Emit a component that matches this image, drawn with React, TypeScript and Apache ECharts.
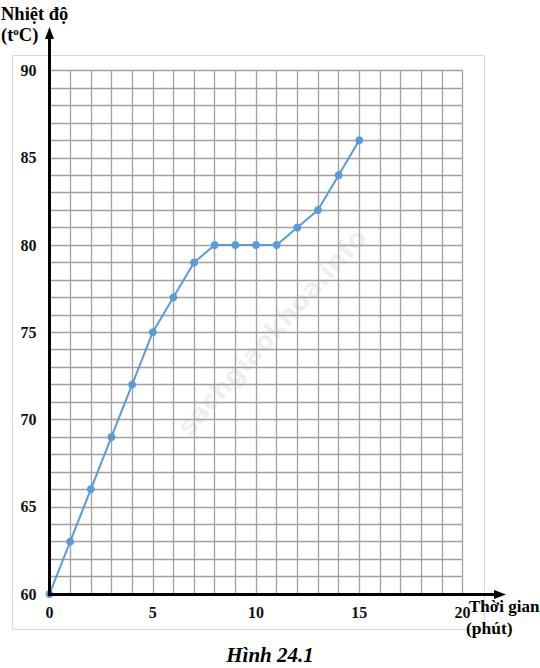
import React, { useEffect, useRef } from "react";
import * as echarts from "echarts";

const timeMinutes = [0, 1, 2, 3, 4, 5, 6, 7, 8, 9, 10, 11, 12, 13, 14, 15];
const temperatures = [60, 63, 66, 69, 72, 75, 77, 79, 80, 80, 80, 80, 81, 82, 84, 86];
const xTickLabels = [0, 5, 10, 15, 20];
const yTickLabels = [60, 65, 70, 75, 80, 85, 90];

const SERIF = '"Liberation Serif", "DejaVu Serif", serif';

export default function App() {
  const ref = useRef<HTMLDivElement>(null);
  useEffect(() => {
    if (!ref.current) return;
    const chart = echarts.init(ref.current, undefined, { renderer: "svg" });
    const data = timeMinutes.map((t, i) => [t, temperatures[i]]);
    chart.setOption({
      animation: false,
      backgroundColor: "#ffffff",
      grid: { left: 49.5, right: 77.5, top: 70.5, bottom: 74 },
      xAxis: {
        type: "value",
        min: 0,
        max: 20,
        interval: 1,
        axisLine: { show: false },
        axisTick: { show: false },
        splitLine: { show: true, lineStyle: { color: "#a0a0a0", width: 1.3 } },
        axisLabel: {
          margin: 10,
          fontFamily: SERIF,
          fontWeight: "bold",
          fontSize: 16,
          color: "#111",
          formatter: (v: number) => (xTickLabels.includes(v) ? String(v) : ""),
        },
      },
      yAxis: {
        type: "value",
        min: 60,
        max: 90,
        interval: 1,
        axisLine: { show: false },
        axisTick: { show: false },
        splitLine: { show: true, lineStyle: { color: "#a0a0a0", width: 1.3 } },
        axisLabel: {
          margin: 13,
          fontFamily: SERIF,
          fontWeight: "bold",
          fontSize: 16,
          color: "#111",
          formatter: (v: number) => (yTickLabels.includes(v) ? String(v) : ""),
        },
      },
      series: [
        {
          type: "line",
          data,
          symbol: "circle",
          symbolSize: 8,
          z: 5,
          lineStyle: { color: "#5b9bd5", width: 2 },
          itemStyle: { color: "#5b9bd5" },
        },
      ],
      graphic: [
        {
          type: "rect",
          z: -10,
          silent: true,
          shape: { x: 12.5, y: 55.5, width: 472, height: 574 },
          style: { fill: "none", stroke: "#d9d9d9", lineWidth: 1 },
        },
        {
          type: "text",
          x: 272,
          y: 332,
          rotation: (48 * Math.PI) / 180,
          z: 1,
          silent: true,
          style: {
            text: "sachgiaokhoa.info",
            fontFamily: '"DejaVu Sans", sans-serif',
            fontWeight: "bold",
            fontSize: 26,
            fill: "rgba(150, 190, 150, 0.2)",
            align: "center",
            verticalAlign: "middle",
          },
        },
        {
          type: "line",
          z: 10,
          shape: { x1: 49.5, y1: 596, x2: 49.5, y2: 36 },
          style: { stroke: "#000", lineWidth: 3 },
        },
        {
          type: "polygon",
          z: 10,
          shape: { points: [[49.5, 27], [45, 39], [54, 39]] },
          style: { fill: "#000" },
        },
        {
          type: "line",
          z: 10,
          shape: { x1: 48, y1: 594.5, x2: 496, y2: 594.5 },
          style: { stroke: "#000", lineWidth: 3 },
        },
        {
          type: "polygon",
          z: 10,
          shape: { points: [[506, 594.5], [494, 590], [494, 599]] },
          style: { fill: "#000" },
        },
        {
          type: "text",
          x: 1,
          y: 14,
          style: {
            text: "Nhiệt độ",
            fontFamily: SERIF,
            fontWeight: "bold",
            fontSize: 18.5,
            fill: "#000",
            verticalAlign: "middle",
          },
        },
        {
          type: "text",
          x: 1,
          y: 35,
          style: {
            text: "(t{sup|o}C)",
            fontFamily: SERIF,
            fontWeight: "bold",
            fontSize: 18.5,
            fill: "#000",
            verticalAlign: "middle",
            rich: {
              sup: {
                fontFamily: SERIF,
                fontWeight: "bold",
                fontSize: 11,
                verticalAlign: "top",
                padding: [0, 0, 8, 0],
              },
            },
          },
        },
        {
          type: "text",
          x: 469,
          y: 606,
          style: {
            text: "Thời gian",
            fontFamily: SERIF,
            fontWeight: "bold",
            fontSize: 17,
            fill: "#000",
            verticalAlign: "middle",
          },
        },
        {
          type: "text",
          x: 466,
          y: 628,
          style: {
            text: "(phút)",
            fontFamily: SERIF,
            fontWeight: "bold",
            fontSize: 17.5,
            fill: "#000",
            verticalAlign: "middle",
          },
        },
        {
          type: "text",
          x: 270,
          y: 655,
          style: {
            text: "Hình 24.1",
            fontFamily: SERIF,
            fontWeight: "bold",
            fontStyle: "italic",
            fontSize: 21,
            fill: "#000",
            align: "center",
            verticalAlign: "middle",
          },
        },
      ],
    });
    return () => chart.dispose();
  }, []);
  return <div ref={ref} style={{ width: 540, height: 668, position: "absolute", left: 0, top: 0 }} />;
}
